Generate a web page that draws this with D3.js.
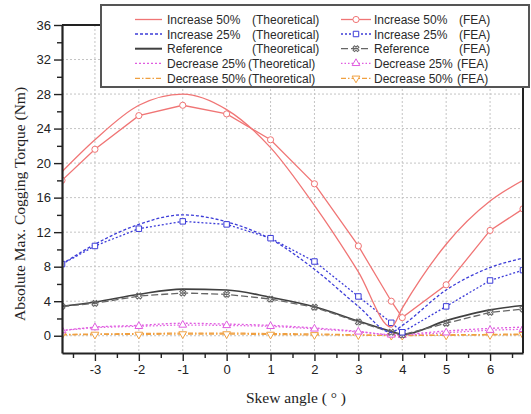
<!DOCTYPE html>
<html>
<head>
<meta charset="utf-8">
<script src="https://cdn.jsdelivr.net/npm/d3@7"></script>
<style>
  body { margin: 0; background: #fff; }
  svg { display: block; }
</style>
</head>
<body>
<svg id="chart" width="531" height="414"></svg>
<script>
// skew angle samples (deg)
const skew = [-3.75, -3, -2, -1, 0, 1, 2, 3, 3.75, 4, 5, 6, 6.75];

// theoretical curves
const inc50Theo = [19.0, 22.7, 26.7, 28.0, 26.2, 21.8, 15.1, 7.4, 1.0, 3.2, 10.6, 15.6, 18.0];
const inc25Theo = [8.3, 10.6, 12.9, 14.0, 13.2, 11.2, 7.7, 3.4, 0.4, 1.2, 5.3, 7.9, 9.0];
const refTheo   = [3.4, 3.9, 4.8, 5.4, 5.3, 4.45, 3.35, 1.7, 0.5, 0.15, 1.75, 3.0, 3.5];
const dec25Theo = [0.6, 1.0, 1.2, 1.45, 1.35, 1.2, 0.9, 0.5, 0.1, 0.15, 0.55, 0.85, 1.0];
const dec50Theo = [0.15, 0.2, 0.25, 0.3, 0.3, 0.25, 0.2, 0.1, 0.02, 0.03, 0.1, 0.15, 0.2];

// FEA results
const inc50Fea = [18.0, 21.6, 25.5, 26.7, 25.7, 22.7, 17.6, 10.4, 4.0, 2.1, 5.9, 12.2, 14.7];
const inc25Fea = [8.3, 10.4, 12.4, 13.25, 12.9, 11.3, 8.6, 4.55, 1.5, 0.4, 3.4, 6.4, 7.6];
const refFea   = [3.4, 3.75, 4.6, 4.95, 4.8, 4.25, 3.3, 1.6, 0.4, 0.1, 1.45, 2.7, 3.1];
const dec25Fea = [0.6, 0.95, 1.1, 1.25, 1.2, 1.1, 0.8, 0.45, 0.1, 0.05, 0.35, 0.65, 0.75];
const dec50Fea = [0.1, 0.15, 0.15, 0.2, 0.2, 0.15, 0.1, 0.08, 0.02, 0.02, 0.05, 0.1, 0.12];

const names = ["Increase 50%", "Increase 25%", "Reference", "Decrease 25%", "Decrease 50%"];
const xTicks = [-3, -2, -1, 0, 1, 2, 3, 4, 5, 6];
const yTicks = [0, 4, 8, 12, 16, 20, 24, 28, 32, 36];

const series = [
  { name: names[0], theo: inc50Theo, fea: inc50Fea, color: "#f07575", theoDash: null, feaDash: null, sym: "circle" },
  { name: names[1], theo: inc25Theo, fea: inc25Fea, color: "#3c3cd8", theoDash: "3,2", feaDash: "2,2", sym: "square" },
  { name: names[2], theo: refTheo, fea: refFea, color: "#404040", theoDash: null, feaDash: "7,3", sym: "x", feaColor: "#666" },
  { name: names[3], theo: dec25Theo, fea: dec25Fea, color: "#e05ce0", theoDash: "2,2", feaDash: "1.5,2", sym: "tri" },
  { name: names[4], theo: dec50Theo, fea: dec50Fea, color: "#f0a040", theoDash: "5,2,1.5,2", feaDash: "5,2,1.5,2", sym: "itri" }
];

const svg = d3.select("#chart");
const m = { left: 62, right: 523, top: 25, bottom: 353 };

const x = d3.scaleLinear().domain([-3.75, 6.75]).range([m.left, m.right]);
const y = d3.scaleLinear().domain([-2, 36]).range([m.bottom, m.top]);

// grid
const grid = svg.append("g").attr("stroke", "#c4c4c4").attr("stroke-width", 1).attr("stroke-dasharray", "2,2");
grid.selectAll("line.vx").data(xTicks).enter().append("line")
  .attr("x1", d => x(d)).attr("x2", d => x(d)).attr("y1", m.top).attr("y2", m.bottom);
grid.selectAll("line.hy").data(yTicks.filter(d => d < 36)).enter().append("line")
  .attr("x1", m.left).attr("x2", m.right).attr("y1", d => y(d)).attr("y2", d => y(d));

svg.append("clipPath").attr("id", "plotclip").append("rect")
  .attr("x", m.left).attr("y", m.top).attr("width", m.right - m.left).attr("height", m.bottom - m.top);

const symbolPath = (s, size) => {
  if (s === "circle") return d3.symbol().type(d3.symbolCircle).size(size || 30)();
  if (s === "square") return d3.symbol().type(d3.symbolSquare).size(size || 30)();
  if (s === "tri" || s === "itri") return d3.symbol().type(d3.symbolTriangle).size(size || 26)();
  return d3.symbol().type(d3.symbolCross).size(size || 22)();
};
const symbolRotate = s => s === "itri" ? 180 : (s === "x" ? 45 : 0);

const theoLine = d3.line().x((d, i) => x(skew[i])).y(d => y(d)).curve(d3.curveMonotoneX);
const feaLine = d3.line().x((d, i) => x(skew[i])).y(d => y(d));

const plot = svg.append("g").attr("clip-path", "url(#plotclip)");

// draw back to front so the big ones sit on top like the original
series.slice().reverse().forEach(s => {
  plot.append("path").datum(s.theo)
    .attr("d", theoLine)
    .attr("fill", "none")
    .attr("stroke", s.color)
    .attr("stroke-width", s.name === "Reference" ? 1.6 : 1.3)
    .attr("stroke-dasharray", s.theoDash);

  plot.append("path").datum(s.fea)
    .attr("d", feaLine)
    .attr("fill", "none")
    .attr("stroke", s.feaColor || s.color)
    .attr("stroke-width", 1.3)
    .attr("stroke-dasharray", s.feaDash);

  plot.selectAll(null).data(s.fea).enter().append("path")
    .attr("d", symbolPath(s.sym))
    .attr("transform", (d, i) => `translate(${x(skew[i])},${y(d)}) rotate(${symbolRotate(s.sym)})`)
    .attr("fill", s.sym === "x" ? "none" : "#fff")
    .attr("stroke", s.feaColor || s.color)
    .attr("stroke-width", 1);
});

// frame
svg.append("line").attr("x1", m.left).attr("x2", m.right).attr("y1", m.top).attr("y2", m.top)
  .attr("stroke", "#222").attr("stroke-width", 2);
svg.append("line").attr("x1", m.right).attr("x2", m.right).attr("y1", m.top).attr("y2", m.bottom)
  .attr("stroke", "#222").attr("stroke-width", 2);

// axes (plain hyphen for negatives, like the original)
const fmt = d => String(d);
svg.append("g").attr("transform", `translate(${m.left},0)`)
  .call(d3.axisLeft(y).tickValues(yTicks).tickFormat(fmt).tickSize(8).tickSizeOuter(0).tickPadding(3));
svg.append("g").attr("transform", `translate(${m.left},0)`)
  .call(d3.axisLeft(y).tickValues(d3.range(2, 36, 4)).tickSize(5).tickFormat("").tickSizeOuter(0))
  .select(".domain").remove();

svg.append("g").attr("transform", `translate(0,${m.bottom})`)
  .call(d3.axisBottom(x).tickValues(xTicks).tickFormat(fmt).tickSize(8).tickSizeOuter(0).tickPadding(4));
svg.append("g").attr("transform", `translate(0,${m.bottom})`)
  .call(d3.axisBottom(x).tickValues(d3.range(-3.5, 6.75, 1)).tickSize(5).tickFormat("").tickSizeOuter(0))
  .select(".domain").remove();

svg.selectAll(".domain").attr("stroke", "#222").attr("stroke-width", 2.2);
svg.selectAll(".tick line").attr("stroke", "#222").attr("stroke-width", 1.4);
svg.selectAll(".tick text")
  .style("font-family", "'Liberation Sans', Arial, sans-serif")
  .style("font-size", "13px")
  .attr("fill", "#222");

// axis titles
svg.append("text")
  .attr("transform", "translate(25,204) rotate(-90)")
  .attr("text-anchor", "middle")
  .style("font-family", "'Liberation Serif', 'Times New Roman', serif")
  .style("font-size", "15.5px")
  .attr("fill", "#222")
  .text("Absolute Max. Cogging Torque (Nm)");

svg.append("text")
  .attr("x", 296).attr("y", 403)
  .attr("text-anchor", "middle")
  .style("font-family", "'Liberation Serif', 'Times New Roman', serif")
  .style("font-size", "15.5px")
  .attr("fill", "#222")
  .text("Skew angle ( ° )");

// legend
const lg = svg.append("g");
lg.append("rect")
  .attr("x", 101).attr("y", 5).attr("width", 428).attr("height", 82)
  .attr("fill", "#fff").attr("stroke", "#555").attr("stroke-width", 2);

const rowY = [19.5, 34, 48.7, 63.3, 78.3];
const legendFont = "'Liberation Sans', Arial, sans-serif";

series.forEach((s, i) => {
  const cy = rowY[i];
  // theoretical
  lg.append("line").attr("x1", 135).attr("x2", 162).attr("y1", cy).attr("y2", cy)
    .attr("stroke", s.color).attr("stroke-width", s.name === "Reference" ? 2 : 1.3)
    .attr("stroke-dasharray", s.theoDash);
  lg.append("text").attr("x", 167).attr("y", cy + 4.5)
    .style("font-family", legendFont).style("font-size", "12px").attr("fill", "#2a2a2a")
    .text(s.name);
  lg.append("text").attr("x", i < 3 ? 252 : 248).attr("y", cy + 4.5)
    .style("font-family", legendFont).style("font-size", "12px").attr("fill", "#2a2a2a")
    .text("(Theoretical)");

  // FEA
  lg.append("line").attr("x1", 341).attr("x2", 371).attr("y1", cy).attr("y2", cy)
    .attr("stroke", s.feaColor || s.color).attr("stroke-width", 1.3)
    .attr("stroke-dasharray", s.feaDash);
  lg.append("path").attr("d", symbolPath(s.sym))
    .attr("transform", `translate(356,${cy}) rotate(${symbolRotate(s.sym)})`)
    .attr("fill", s.sym === "x" ? "none" : "#fff")
    .attr("stroke", s.feaColor || s.color).attr("stroke-width", 1);
  lg.append("text").attr("x", 374).attr("y", cy + 4.5)
    .style("font-family", legendFont).style("font-size", "12px").attr("fill", "#2a2a2a")
    .text(s.name);
  lg.append("text").attr("x", i < 3 ? 459 : 457).attr("y", cy + 4.5)
    .style("font-family", legendFont).style("font-size", "12px").attr("fill", "#2a2a2a")
    .text("(FEA)");
});
</script>
</body>
</html>
